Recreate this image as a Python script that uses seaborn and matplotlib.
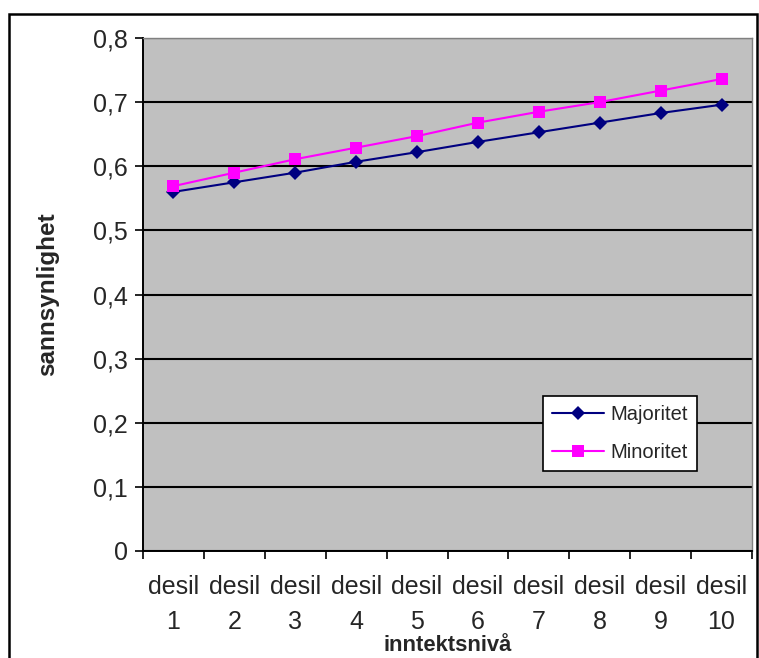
import matplotlib
matplotlib.use("Agg")
import matplotlib.pyplot as plt
from matplotlib.patches import Rectangle
from matplotlib.ticker import FixedLocator, NullFormatter
import numpy as np
import pandas as pd
import seaborn as sns

# Income deciles and estimated probabilities
deciles = ["desil\n1", "desil\n2", "desil\n3", "desil\n4", "desil\n5",
           "desil\n6", "desil\n7", "desil\n8", "desil\n9", "desil\n10"]
majoritet = [0.560, 0.575, 0.590, 0.607, 0.622, 0.638, 0.653, 0.668, 0.683, 0.696]
minoritet = [0.569, 0.590, 0.611, 0.629, 0.647, 0.668, 0.685, 0.700, 0.718, 0.736]
y_ticks = [0, 0.1, 0.2, 0.3, 0.4, 0.5, 0.6, 0.7, 0.8]
y_tick_labels = ["0", "0,1", "0,2", "0,3", "0,4", "0,5", "0,6", "0,7", "0,8"]

pos = np.arange(len(deciles))
df = pd.DataFrame({
    "pos": np.concatenate([pos, pos]),
    "verdi": majoritet + minoritet,
    "gruppe": ["Majoritet"] * len(pos) + ["Minoritet"] * len(pos),
})

sns.set_theme(style="white")
plt.rcParams["font.family"] = ["Liberation Sans", "DejaVu Sans"]

fig = plt.figure(figsize=(7.59, 6.58), dpi=100)
ax = fig.add_axes([143 / 759, 1 - 551 / 658, 609 / 759, 513 / 658])
ax.set_facecolor("#C0C0C0")

# Outer chart border
fig.patches.append(Rectangle((9 / 759, -0.01), 748 / 759, 1 - 14 / 658 + 0.01,
                             transform=fig.transFigure, fill=False,
                             edgecolor="black", linewidth=1.8, zorder=0))

palette = {"Majoritet": "#000080", "Minoritet": "#FF00FF"}
sns.lineplot(data=df, x="pos", y="verdi", hue="gruppe", style="gruppe",
             palette=palette, markers={"Majoritet": "D", "Minoritet": "s"},
             dashes=False, markersize=8, linewidth=1.5, markeredgewidth=0,
             ax=ax, legend=True, zorder=3)
for ln in ax.lines:
    if ln.get_marker() == "D":
        ln.set_markersize(7.6)
    elif ln.get_marker() == "s":
        ln.set_markersize(8.6)

ax.set_xlim(-0.5, len(deciles) - 0.5)
ax.set_ylim(0, 0.8)

ax.set_yticks(y_ticks)
ax.set_yticklabels(y_tick_labels, fontsize=18)
ax.yaxis.grid(True, color="black", linewidth=1.5)
ax.set_axisbelow(True)

ax.set_xticks(pos)
ax.set_xticklabels(deciles, fontsize=18, linespacing=1.6)
ax.xaxis.set_minor_locator(FixedLocator(np.arange(-0.5, len(deciles), 1.0)))
ax.xaxis.set_minor_formatter(NullFormatter())
ax.tick_params(axis="x", which="major", length=0, pad=17)
ax.tick_params(axis="x", which="minor", length=6, width=1.2, color="black",
               direction="out", bottom=True)
ax.tick_params(axis="y", length=6, width=1.2, color="black", direction="out",
               left=True, pad=5)

ax.set_xlabel("inntektsnivå", fontsize=15.8, fontweight="bold", labelpad=1)
ax.set_ylabel("sannsynlighet", fontsize=17.5, fontweight="bold", labelpad=24)

for side in ("left", "bottom"):
    ax.spines[side].set_color("black")
    ax.spines[side].set_linewidth(1.4)
for side in ("top", "right"):
    ax.spines[side].set_color("#808080")
    ax.spines[side].set_linewidth(1.0)

leg = ax.legend(loc="upper left", bbox_to_anchor=((543 - 143) / 609, 1 - (396 - 38) / 513),
                frameon=True, fancybox=False, fontsize=14.5, handlelength=2.6,
                borderpad=0.45, labelspacing=0.95, handletextpad=0.3,
                borderaxespad=0)
leg.get_frame().set_edgecolor("black")
leg.get_frame().set_linewidth(1.2)
leg.get_frame().set_facecolor("white")
leg.get_frame().set_alpha(1)

fig.savefig("out.png", dpi=100, facecolor="white")
